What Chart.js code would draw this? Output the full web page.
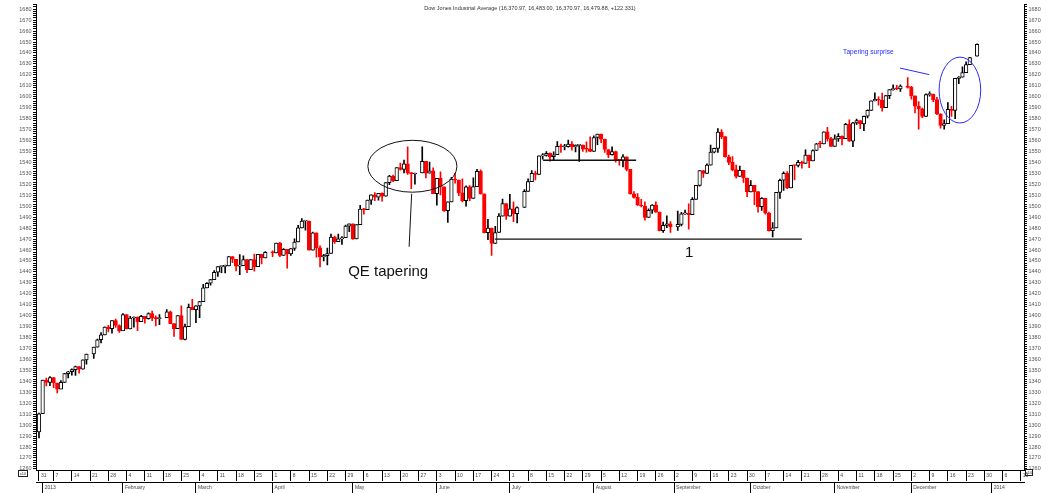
<!DOCTYPE html>
<html>
<head>
<meta charset="utf-8">
<title>Dow Jones Industrial Average</title>
<script src="https://cdn.jsdelivr.net/npm/chart.js@4.4.1/dist/chart.umd.min.js"></script>
<style>
  html, body { margin: 0; padding: 0; background: #fff; }
  #wrap { width: 1047px; height: 493px; position: relative; }
</style>
</head>
<body>
<div id="wrap"><canvas id="dji"></canvas></div>
<script>
// DJIA daily candles, values in index points / 10 (as on the axis)
// one entry per trading day, 31 Dec 2012 .. 26 Dec 2013

const opens = [
  1293.8,
  // Jan
  1310.4,1341.2,1339.1,1343.5,1338.5,1332.9,1339.0,1347.1,1348.8,1350.7,1353.5,1351.1,1359.6,1365.0,1371.2,1378.0,1382.5,1389.6,1388.2,1395.4,1391.0,
  // Feb
  1386.1,1400.9,1388.0,1397.9,1398.6,1394.4,1399.3,1397.2,1401.9,1398.2,1397.3,1398.1,1403.5,1392.7,1388.1,1400.1,1378.4,1390.0,1407.5,
  // Mar
  1405.4,1409.0,1412.8,1425.4,1429.6,1432.9,1439.7,1444.8,1445.1,1445.5,1453.9,1451.5,1445.3,1445.6,1451.2,1442.1,1451.2,1444.8,1456.0,1452.7,
  // Apr
  1457.9,1457.3,1466.2,1455.0,1460.6,1456.5,1461.4,1467.3,1480.2,1486.5,1486.5,1459.9,1475.7,1461.9,1453.7,1454.8,1456.8,1471.9,1467.6,1470.1,1471.2,1481.8,
  // May
  1484.0,1470.0,1483.1,1497.3,1496.8,1505.6,1510.5,1508.2,1511.8,1509.1,1521.5,1527.5,1523.3,1535.4,1533.5,1538.7,1530.7,1529.4,1530.3,1540.9,1530.2,1532.4,
  // Jun
  1511.5,1525.4,1517.7,1496.0,1504.0,1524.8,1523.9,1512.2,1505.0,1517.6,1507.0,1517.9,1531.8,1511.2,1475.8,1480.0,1466.0,1476.0,1491.0,1502.4,
  // Jul
  1491.0,1497.5,1493.2,1498.8,1513.6,1522.5,1530.0,1529.1,1546.0,1546.4,1548.4,1545.2,1547.0,1554.8,1554.3,1554.5,1556.8,1554.3,1555.6,1555.9,1552.1,1552.0,
  // Aug
  1550.0,1562.8,1565.8,1561.2,1551.8,1547.0,1549.8,1542.5,1541.9,1545.1,1533.7,1511.2,1508.1,1501.0,1500.2,1489.7,1496.3,1501.0,1494.6,1477.6,1482.5,1484.0,
  // Sep
  1481.0,1483.4,1493.0,1493.8,1492.2,1506.3,1519.1,1532.6,1530.0,1537.6,1549.4,1552.9,1567.7,1563.6,1545.2,1540.1,1533.4,1527.3,1532.8,1525.8,
  // Oct
  1513.0,1519.1,1513.3,1499.6,1507.3,1493.6,1477.6,1480.2,1512.6,1523.7,1530.1,1516.8,1537.3,1537.2,1540.0,1539.2,1546.8,1541.3,1550.9,1557.0,1556.9,1568.0,1561.8,
  // Nov
  1554.6,1561.5,1563.9,1561.8,1574.7,1559.4,1576.2,1578.3,1575.1,1582.2,1587.6,1596.2,1597.6,1596.8,1590.0,1601.0,1606.5,1607.3,1607.2,1609.7,
  // Dec
  1608.6,1600.8,1591.5,1588.9,1582.1,1602.0,1602.5,1597.3,1584.4,1573.9,1575.5,1588.5,1587.6,1616.8,1617.9,1622.1,1629.4,1637.1
];

const highs = [
  1311.0,
  1341.2,1343.0,1344.3,1343.5,1338.5,1340.6,1347.3,1349.1,1351.5,1353.9,1353.5,1359.6,1365.0,1371.2,1378.6,1384.6,1389.7,1391.2,1395.4,1396.9,1391.7,
  1401.9,1400.9,1399.5,1398.9,1398.9,1400.4,1399.3,1402.7,1404.1,1399.9,1401.0,1405.5,1404.1,1392.7,1400.1,1408.9,1392.4,1410.5,1414.9,
  1409.3,1413.1,1428.6,1430.3,1433.3,1441.3,1444.8,1445.4,1446.3,1454.0,1453.9,1451.5,1455.8,1454.6,1451.2,1451.3,1456.3,1456.0,1456.0,1458.5,
  1459.2,1466.2,1466.9,1461.3,1460.6,1461.4,1470.1,1482.6,1488.8,1486.5,1486.5,1476.4,1475.7,1463.7,1456.0,1461.8,1474.6,1472.6,1474.5,1472.3,1482.8,1484.0,
  1484.0,1483.1,1500.9,1498.0,1505.6,1510.5,1512.5,1511.8,1512.3,1521.5,1528.2,1528.5,1535.4,1539.5,1542.2,1554.2,1530.7,1530.3,1554.2,1540.9,1540.3,1535.0,
  1525.4,1531.3,1517.7,1504.0,1526.3,1530.0,1523.9,1525.0,1518.6,1518.8,1526.0,1533.6,1533.3,1511.2,1487.9,1480.0,1481.7,1493.2,1506.5,1502.4,
  1510.9,1504.1,1499.4,1515.2,1524.9,1532.5,1532.0,1546.0,1548.1,1550.0,1548.7,1549.6,1559.0,1556.8,1556.6,1560.4,1559.1,1556.1,1555.9,1555.9,1558.9,1563.4,
  1564.2,1565.8,1565.8,1561.3,1551.8,1554.2,1550.3,1542.5,1547.2,1545.1,1533.7,1513.3,1511.5,1506.3,1503.9,1497.6,1501.5,1504.1,1494.6,1485.6,1491.1,1485.9,
  1495.6,1494.5,1496.4,1502.1,1507.8,1519.1,1532.6,1532.6,1538.8,1555.8,1553.1,1570.9,1570.0,1563.6,1546.6,1545.4,1537.5,1536.6,1532.8,1525.8,
  1523.5,1519.1,1513.3,1507.8,1507.3,1494.6,1485.1,1512.6,1524.8,1531.4,1531.7,1537.4,1537.3,1542.0,1541.2,1551.5,1546.8,1551.6,1557.4,1559.2,1568.0,1572.1,1562.9,
  1565.3,1566.4,1564.2,1575.8,1578.8,1576.7,1579.7,1578.3,1582.3,1588.0,1596.2,1603.6,1599.9,1603.4,1601.4,1606.6,1610.8,1610.5,1610.9,1617.5,
  1609.6,1600.8,1595.5,1589.6,1602.7,1604.5,1602.5,1599.5,1584.4,1579.0,1594.7,1591.3,1616.8,1618.4,1627.4,1631.8,1636.1,1648.3
];

const lows = [
  1288.3,
  1310.4,1335.8,1336.0,1334.3,1329.5,1333.0,1339.0,1343.1,1345.6,1345.4,1347.4,1351.1,1355.7,1361.0,1371.2,1375.0,1382.4,1385.2,1383.9,1389.3,1384.8,
  1386.2,1387.9,1388.0,1389.5,1386.4,1394.4,1393.1,1396.9,1395.4,1390.6,1391.8,1398.1,1392.6,1381.1,1388.1,1378.4,1377.8,1390.0,1405.4,
  1393.7,1398.1,1412.8,1425.4,1427.8,1432.9,1435.9,1439.2,1439.0,1445.5,1448.5,1440.9,1437.4,1445.6,1439.2,1442.1,1440.6,1444.8,1447.3,1452.7,
  1453.8,1457.3,1453.9,1455.0,1443.4,1455.1,1459.7,1467.3,1480.2,1478.2,1459.8,1459.9,1453.4,1444.5,1450.1,1446.4,1456.8,1465.9,1467.6,1465.0,1471.2,1476.7,
  1469.7,1470.0,1483.1,1492.8,1496.8,1501.6,1505.0,1505.5,1504.6,1509.1,1519.6,1522.4,1523.3,1532.9,1530.4,1529.1,1516.0,1520.2,1530.3,1525.9,1530.2,1511.5,
  1500.9,1510.4,1495.3,1485.1,1504.0,1521.0,1509.7,1503.8,1500.0,1505.0,1507.0,1517.9,1510.9,1475.6,1469.5,1455.1,1466.0,1476.0,1491.0,1487.9,
  1491.0,1485.8,1484.7,1498.8,1513.6,1522.5,1524.0,1529.1,1543.0,1545.8,1541.1,1542.3,1547.0,1549.2,1551.4,1554.0,1551.1,1549.5,1541.0,1550.0,1549.4,1549.9,
  1550.0,1556.3,1558.0,1549.2,1544.4,1546.7,1540.2,1537.6,1535.8,1532.3,1511.0,1507.3,1500.7,1499.3,1487.3,1489.7,1493.5,1494.4,1477.4,1476.1,1480.4,1476.1,
  1477.8,1481.9,1492.4,1479.1,1492.2,1506.3,1518.3,1526.3,1530.0,1537.6,1548.7,1549.1,1561.8,1544.8,1537.9,1532.2,1525.5,1527.3,1521.7,1508.7,
  1513.0,1501.5,1494.6,1496.2,1492.8,1477.3,1471.9,1480.2,1507.2,1514.5,1516.0,1516.8,1524.1,1535.8,1534.7,1539.2,1535.2,1541.3,1550.9,1553.5,1556.9,1559.5,1554.6,
  1554.6,1559.2,1555.9,1561.8,1559.2,1554.5,1574.8,1570.8,1568.9,1580.6,1587.6,1596.2,1592.4,1586.9,1590.0,1598.2,1606.0,1606.4,1604.8,1607.9,
  1597.8,1585.2,1570.4,1580.9,1582.1,1600.5,1595.6,1583.7,1571.3,1570.3,1575.5,1582.1,1580.0,1612.0,1617.9,1622.1,1629.4,1637.1
];

const closes = [
  1310.4,
  1341.2,1339.1,1343.5,1338.5,1332.9,1339.0,1347.1,1348.8,1350.7,1353.5,1351.1,1359.6,1365.0,1371.2,1378.0,1382.5,1389.6,1388.2,1395.4,1391.0,1386.1,
  1400.9,1388.0,1397.9,1398.6,1394.4,1399.3,1397.2,1401.9,1398.2,1397.3,1398.1,1403.5,1392.7,1388.1,1400.1,1378.4,1390.0,1407.5,1405.4,
  1409.0,1412.8,1425.4,1429.6,1432.9,1439.7,1444.8,1445.1,1445.5,1453.9,1451.5,1445.3,1445.6,1451.2,1442.1,1451.2,1444.8,1456.0,1452.7,1457.9,
  1457.3,1466.2,1455.0,1460.6,1456.5,1461.4,1467.3,1480.2,1486.5,1486.5,1459.9,1475.7,1461.9,1453.7,1454.8,1456.8,1471.9,1467.6,1470.1,1471.2,1481.8,1484.0,
  1470.0,1483.1,1497.3,1496.8,1505.6,1510.5,1508.2,1511.8,1509.1,1521.5,1527.5,1523.3,1535.4,1533.5,1538.7,1530.7,1529.4,1530.3,1540.9,1530.2,1532.4,1511.5,
  1525.4,1517.7,1496.0,1504.0,1524.8,1523.9,1512.2,1505.0,1517.6,1507.0,1517.9,1531.8,1511.2,1475.8,1480.0,1466.0,1476.0,1491.0,1502.4,1491.0,
  1497.5,1493.2,1498.8,1513.6,1522.5,1530.0,1529.1,1546.0,1546.4,1548.4,1545.2,1547.0,1554.8,1554.3,1554.5,1556.8,1554.3,1555.6,1555.9,1552.1,1552.0,1550.0,
  1562.8,1565.8,1561.2,1551.8,1547.0,1549.8,1542.5,1541.9,1545.1,1533.7,1511.2,1508.1,1501.0,1500.2,1489.7,1496.3,1501.0,1494.6,1477.6,1482.5,1484.0,1481.0,
  1483.4,1493.0,1493.8,1492.2,1506.3,1519.1,1532.6,1530.0,1537.6,1549.4,1552.9,1567.7,1563.6,1545.2,1540.1,1533.4,1527.3,1532.8,1525.8,1513.0,
  1519.1,1513.3,1499.6,1507.3,1493.6,1477.6,1480.2,1512.6,1523.7,1530.1,1516.8,1537.3,1537.2,1540.0,1539.2,1546.8,1541.3,1550.9,1557.0,1556.9,1568.0,1561.8,1554.6,
  1561.5,1563.9,1561.8,1574.7,1559.4,1576.2,1578.3,1575.1,1582.2,1587.6,1596.2,1597.6,1596.8,1590.0,1601.0,1606.5,1607.3,1607.2,1609.7,1608.6,
  1600.8,1591.5,1588.9,1582.1,1602.0,1602.5,1597.3,1584.4,1573.9,1575.5,1588.5,1587.6,1616.8,1617.9,1622.1,1629.4,1635.7,1648.0
];

// market closed on these weekdays (slot kept empty on the axis)
const holidays = ['2013-01-21', '2013-02-18', '2013-03-29', '2013-05-27',
                  '2013-07-04', '2013-09-02', '2013-11-28', '2013-12-25'];
const lastDay = '2013-12-26';
const axisEnd = '2014-01-14';
const monthNames = ['January', 'February', 'March', 'April', 'May', 'June', 'July',
                    'August', 'September', 'October', 'November', 'December'];

// y ticks every 2 points, labels every 10
const yMin = 1259, yMax = 1684;

// drawn notes: [fromSlot, toSlot, level]
const levelLines = [[124.9, 209.0, 1470], [138.1, 163.6, 1542]];

const titleText = 'Dow Jones Industrial Average (16,370.97, 16,483.00, 16,370.97, 16,479.88, +122.331)';

// x slots: 31 Dec 2012, then every weekday from 2 Jan 2013
function buildSlots() {
    const out = ['2012-12-31'];
    let t = Date.UTC(2013, 0, 2);
    const end = Date.parse(axisEnd + 'T00:00:00Z');
    while (t <= end) {
        const d = new Date(t);
        const wd = d.getUTCDay();
        if (wd !== 0 && wd !== 6) out.push(d.toISOString().slice(0, 10));
        t += 86400000;
    }
    return out;
}

const slots = buildSlots();
const tradeSlots = [];
slots.forEach((d, i) => {
    if (d <= lastDay && !holidays.includes(d)) tradeSlots.push(i);
});
if (tradeSlots.length !== closes.length) console.warn('slot mismatch', tradeSlots.length, closes.length);

const weekTicks = new Map();
const monthTicks = new Map();
slots.forEach((d, i) => {
    const dt = new Date(d + 'T00:00:00Z');
    if (dt.getUTCDay() === 1) weekTicks.set(i, String(dt.getUTCDate()));
    const prev = i > 0 ? slots[i - 1] : null;
    if (i > 0 && prev.slice(0, 7) !== d.slice(0, 7)) {
        const m = dt.getUTCMonth();
        monthTicks.set(i, m === 0 ? String(dt.getUTCFullYear()) : monthNames[m]);
    }
});

const isDown = closes.map((c, i) => c < opens[i]);
const bodies = closes.map((c, i) => ({ x: tradeSlots[i], y: [opens[i], c] }));
const wicks = closes.map((c, i) => ({ x: tradeSlots[i], y: [lows[i], highs[i]] }));

const RED = '#ff0000';
const xMin = -0.82, xMax = 269.86;
const yFont = { family: 'Liberation Sans, Arial, sans-serif', size: 5.5 };
const xFont = { family: 'Liberation Sans, Arial, sans-serif', size: 5 };

const notes = {
    id: 'notes',
    afterDatasetsDraw(chart) {
        const { ctx } = chart;
        const xs = chart.scales.x, ys = chart.scales.y;
        const px = v => xs.getPixelForValue(v);
        const py = v => ys.getPixelForValue(v);
        const line = (x0, y0, x1, y1) => {
            ctx.beginPath(); ctx.moveTo(px(x0), py(y0)); ctx.lineTo(px(x1), py(y1)); ctx.stroke();
        };
        const oval = (cx, cy, rx, ry) => {
            ctx.beginPath();
            ctx.ellipse(px(cx), py(cy), Math.abs(px(cx + rx) - px(cx)), Math.abs(py(cy + ry) - py(cy)), 0, 0, Math.PI * 2);
            ctx.stroke();
        };
        ctx.save();
        ctx.strokeStyle = '#111';
        ctx.lineWidth = 1.3;
        levelLines.forEach(([a, b, v]) => line(a, v, b, v));

        ctx.lineWidth = 1;
        oval(102.3, 1536.5, 12.2, 23.7);
        line(102.1, 1511.4, 101.4, 1462.9);

        ctx.fillStyle = '#111';
        ctx.font = '15px "Liberation Sans", Arial, sans-serif';
        ctx.textBaseline = 'middle';
        ctx.textAlign = 'left';
        ctx.fillText('QE tapering', px(84.7), py(1439.9));
        ctx.textAlign = 'center';
        ctx.fillText('1', px(178.1), py(1457.2));

        ctx.strokeStyle = '#2a2aff';
        ctx.fillStyle = '#2a2aff';
        oval(252.3, 1606.1, 5.7, 30.1);
        line(235.9, 1626.2, 243.9, 1620.2);
        ctx.font = '6.6px "Liberation Sans", Arial, sans-serif';
        ctx.textAlign = 'left';
        ctx.fillText('Tapering surprise', px(220.3), py(1640.5));
        ctx.restore();
    },
    afterDraw(chart) {
        const { ctx } = chart;
        ctx.save();
        ctx.fillStyle = '#333';
        ctx.font = '5.5px "Liberation Sans", Arial, sans-serif';
        ctx.textAlign = 'center';
        ctx.textBaseline = 'middle';
        ctx.fillText(titleText, 530, 8);
        // scale factor boxes
        ctx.strokeStyle = '#222';
        ctx.lineWidth = 1;
        ctx.strokeRect(18.5, 470.5, 9, 6);
        ctx.strokeRect(1025.5, 469.5, 7, 6);
        ctx.font = '4px "Liberation Sans", Arial, sans-serif';
        ctx.fillText('x10', 23, 473.7);
        ctx.fillText('x10', 1029, 472.7);
        ctx.restore();
    }
};

function yAxis(pos, width) {
    return {
        type: 'linear',
        position: pos,
        min: yMin,
        max: yMax,
        afterBuildTicks: s => {
            const t = [];
            for (let v = 1260; v <= 1684; v += 2) t.push({ value: v });
            s.ticks = t;
        },
        afterFit: s => { s.width = width; },
        border: { display: true, color: '#000', width: 1 },
        grid: { drawOnChartArea: false, color: '#000', tickLength: 3 },
        ticks: {
            autoSkip: false,
            padding: 1.5,
            color: '#555',
            font: yFont,
            callback: v => (v % 10 === 0 ? String(v) : '')
        }
    };
}

function dateAxis(weight, height, tickMap) {
    return {
        type: 'linear',
        position: 'bottom',
        weight: weight,
        offset: false,
        min: xMin,
        max: xMax,
        afterBuildTicks: s => { s.ticks = [...tickMap.keys()].map(v => ({ value: v })); },
        afterFit: s => { s.height = height; s.paddingLeft = 0; s.paddingRight = 0; },
        border: { display: true, color: '#000', width: 1 },
        grid: { drawOnChartArea: false, color: '#000', tickLength: 11, offset: false },
        ticks: {
            autoSkip: false,
            maxRotation: 0,
            minRotation: 0,
            align: 'start',
            labelOffset: 2,
            padding: -8.5,
            color: '#444',
            font: xFont,
            callback: v => tickMap.get(v) || ''
        }
    };
}

new Chart(document.getElementById('dji'), {
    type: 'bar',
    data: {
        datasets: [
            {
                label: 'body',
                data: bodies,
                backgroundColor: isDown.map(d => (d ? RED : '#ffffff')),
                borderColor: isDown.map(d => (d ? RED : '#000000')),
                borderWidth: 1,
                borderSkipped: false,
                barThickness: 3.6,
                minBarLength: 1,
                grouped: false,
                order: 0
            },
            {
                label: 'range',
                data: wicks,
                backgroundColor: isDown.map(d => (d ? RED : '#000000')),
                borderWidth: 0,
                barThickness: 1,
                grouped: false,
                order: 1
            }
        ]
    },
    options: {
        responsive: true,
        maintainAspectRatio: false,
        devicePixelRatio: 1,
        animation: false,
        layout: { padding: { top: 4, left: 0, right: 0, bottom: 0 } },
        plugins: { legend: { display: false }, tooltip: { enabled: false }, title: { display: false } },
        scales: {
            x: dateAxis(0, 12, weekTicks),
            xm: dateAxis(1, 11, monthTicks),
            y: yAxis('left', 36),
            y2: yAxis('right', 23)
        }
    },
    plugins: [notes]
});
</script>
</body>
</html>
